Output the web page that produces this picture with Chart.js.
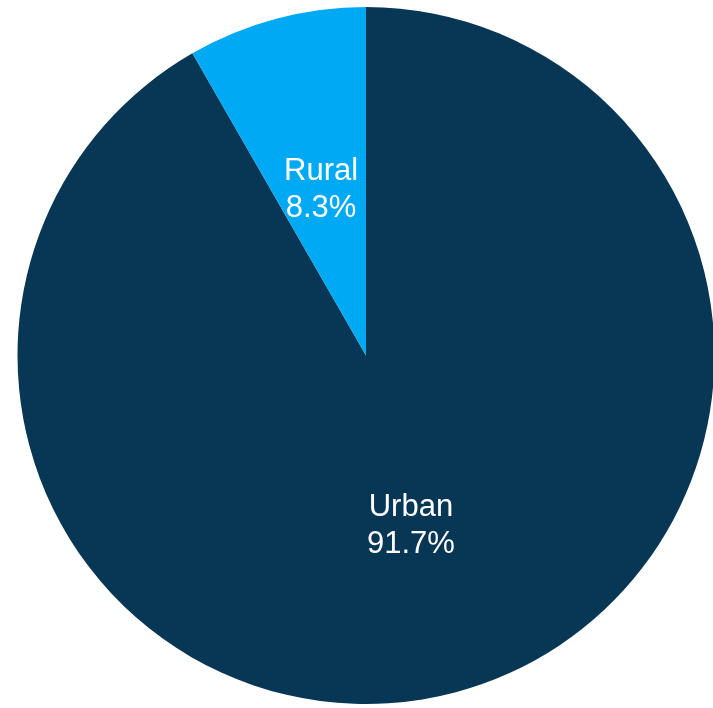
<!DOCTYPE html>
<html>
<head>
<meta charset="utf-8">
<title>Urban vs Rural</title>
<script src="https://cdn.jsdelivr.net/npm/chart.js@4.4.1/dist/chart.umd.min.js"></script>
<style>
  html, body { margin: 0; padding: 0; background: #fff; overflow: hidden; }
  #wrap { position: absolute; left: 0; top: 0; }
</style>
</head>
<body>
<div id="wrap"><canvas id="pieChart" width="732" height="711"></canvas></div>
<script>
// Population split
const categories = ["Urban", "Rural"];
const shares = [91.7, 8.3];
const sliceColors = ["#083756", "#00a9f3"];

// Name + percentage written inside each slice
const sliceLabels = {
  id: "sliceLabels",
  afterDatasetsDraw(chart) {
    const ctx = chart.ctx;
    const meta = chart.getDatasetMeta(0);
    ctx.save();
    ctx.fillStyle = "#ffffff";
    ctx.font = "31px 'Liberation Sans', Arial, sans-serif";
    ctx.textAlign = "center";
    ctx.textBaseline = "middle";
    meta.data.forEach((arc, i) => {
      const pos = arc.getCenterPoint();
      ctx.fillText(categories[i], pos.x, pos.y - 16);
      ctx.fillText(shares[i].toFixed(1) + "%", pos.x, pos.y + 21);
    });
    ctx.restore();
  }
};

new Chart(document.getElementById("pieChart"), {
  type: "pie",
  data: {
    labels: categories,
    datasets: [{
      data: shares,
      backgroundColor: sliceColors,
      borderWidth: 0
    }]
  },
  options: {
    responsive: false,
    animation: false,
    devicePixelRatio: 1,
    layout: { padding: 7 },
    plugins: {
      legend: { display: false },
      tooltip: { enabled: false }
    }
  },
  plugins: [sliceLabels]
});
</script>
</body>
</html>
